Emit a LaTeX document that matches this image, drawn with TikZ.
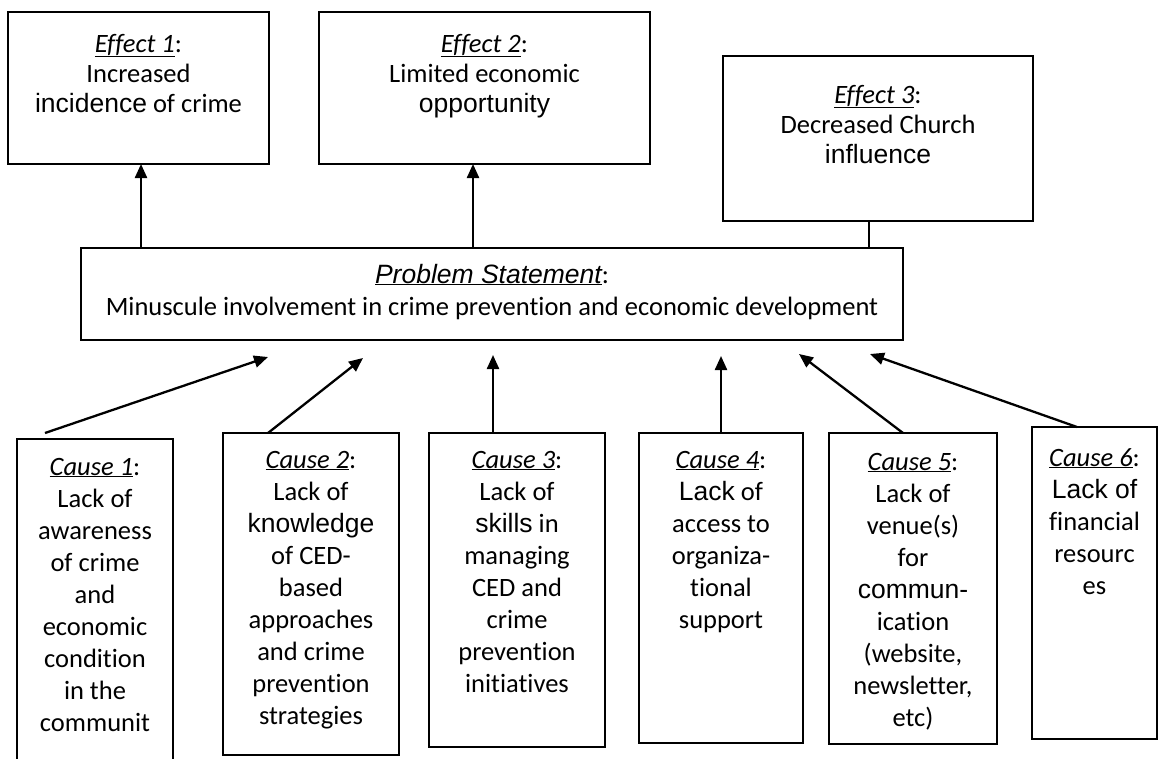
\documentclass[tikz,border=0pt]{standalone}
\usepackage{fontspec}
\setmainfont{Carlito}[Ligatures={NoCommon}]
\newfontfamily\arialf{Liberation Sans}[Ligatures={NoCommon}]
\usetikzlibrary{arrows.meta}
\begin{document}
\begin{tikzpicture}[x=1pt,y=-1pt,
  boxstyle/.style={draw=black, line width=1.4pt, inner sep=0pt, outer sep=0pt, anchor=north west},
  txt/.style={align=center, inner sep=0pt, outer sep=0pt, anchor=north, font=\fontsize{26.5}{32}\selectfont},
  efftxt/.style={align=center, inner sep=0pt, outer sep=0pt, anchor=north, font=\fontsize{26.5}{30}\selectfont},
  arr/.style={line width=2.3pt, -{Triangle[length=14pt,width=12pt]}},
  conn/.style={line width=2.3pt}]
\useasboundingbox[fill=white] (0,0) rectangle (1167,758);

% effect boxes
\node[boxstyle, minimum width=261pt, minimum height=152pt] (e1) at (8,12) {};
\node[boxstyle, minimum width=331pt, minimum height=152pt] (e2) at (319,12) {};
\node[boxstyle, minimum width=310pt, minimum height=165pt] (e3) at (723,56) {};
\node[efftxt] (e1t) at (138.5,31) {\strut\underline{\textit{Effect 1}}:\\Increased\\{\arialf incidence} of crime};
\node[efftxt] (e2t) at (484.5,31) {\strut\underline{\textit{Effect 2}}:\\Limited economic\\{\arialf opportunity}};
\node[efftxt] (e3t) at (878,82) {\strut\underline{\textit{Effect 3}}:\\Decreased Church\\{\arialf influence}};

% problem statement
\node[boxstyle, minimum width=822pt, minimum height=92pt] (p) at (81,248) {};
\node[txt] (pt) at (492,260.6) {\strut\underline{\arialf\itshape Problem Statement}:\\Minuscule involvement in crime prevention and economic development};

% cause boxes
\node[boxstyle, draw=none, minimum width=156pt, minimum height=335pt] (c1) at (17,439) {};
\draw[line width=1.4pt] (c1.south west) -- (c1.north west) -- (c1.north east) -- (c1.south east);
\node[boxstyle, minimum width=176pt, minimum height=322pt] (c2) at (223,433) {};
\node[boxstyle, minimum width=176pt, minimum height=314pt] (c3) at (429,433) {};
\node[boxstyle, minimum width=164pt, minimum height=310pt] (c4) at (639,433) {};
\node[boxstyle, minimum width=168pt, minimum height=311pt] (c5) at (829,433) {};
\node[boxstyle, minimum width=125pt, minimum height=312pt] (c6) at (1032,427) {};

\node[txt] (c1t) at (95,452.6) {\strut\underline{\textit{Cause 1}}:\\Lack of\\awareness\\of crime\\and\\economic\\condition\\in the\\communit};
\node[txt] (c2t) at (311,445.6) {\strut\underline{\textit{Cause 2}}:\\Lack of\\{\arialf knowledge}\\of CED-\\based\\approaches\\and crime\\prevention\\strategies};
\node[txt] (c3t) at (517,445.6) {\strut\underline{\textit{Cause 3}}:\\Lack of\\{\arialf skills} in\\managing\\CED and\\crime\\prevention\\initiatives};
\node[txt] (c4t) at (721,445.6) {\strut\underline{\textit{Cause 4}}:\\{\arialf Lack} of\\access to\\organiza-\\tional\\support};
\node[txt] (c5t) at (913,447.6) {\strut\underline{\textit{Cause 5}}:\\Lack of\\venue(s)\\for\\{\arialf commun-}\\ication\\(website,\\newsletter,\\etc)};
\node[txt] (c6t) at (1094.5,443.6) {\strut\underline{\textit{Cause 6}}:\\{\arialf Lack of}\\financial\\resourc\\es};

% connector end points
\coordinate (e1b) at (141,164);
\coordinate (e2b) at (473,164);
\coordinate (e3b) at (869,221);
\coordinate (a1s) at (45,433);  \coordinate (a1e) at (268,357);
\coordinate (a2s) at (268,433); \coordinate (a2e) at (363,358);
\coordinate (a3s) at (493,433); \coordinate (a3e) at (493,355);
\coordinate (a4s) at (721,433); \coordinate (a4e) at (721,356);
\coordinate (a5s) at (903,433); \coordinate (a5e) at (799,354);
\coordinate (a6s) at (1077,427); \coordinate (a6e) at (870,354);

% connectors
\draw[arr] (e1b |- p.north) -- (e1b);
\draw[arr] (e2b |- p.north) -- (e2b);
\draw[conn] (e3b |- p.north) -- (e3b);
\draw[arr] (a1s) -- (a1e);
\draw[arr] (a2s) -- (a2e);
\draw[arr] (a3s) -- (a3e);
\draw[arr] (a4s) -- (a4e);
\draw[arr] (a5s) -- (a5e);
\draw[arr] (a6s) -- (a6e);
\end{tikzpicture}
\end{document}
